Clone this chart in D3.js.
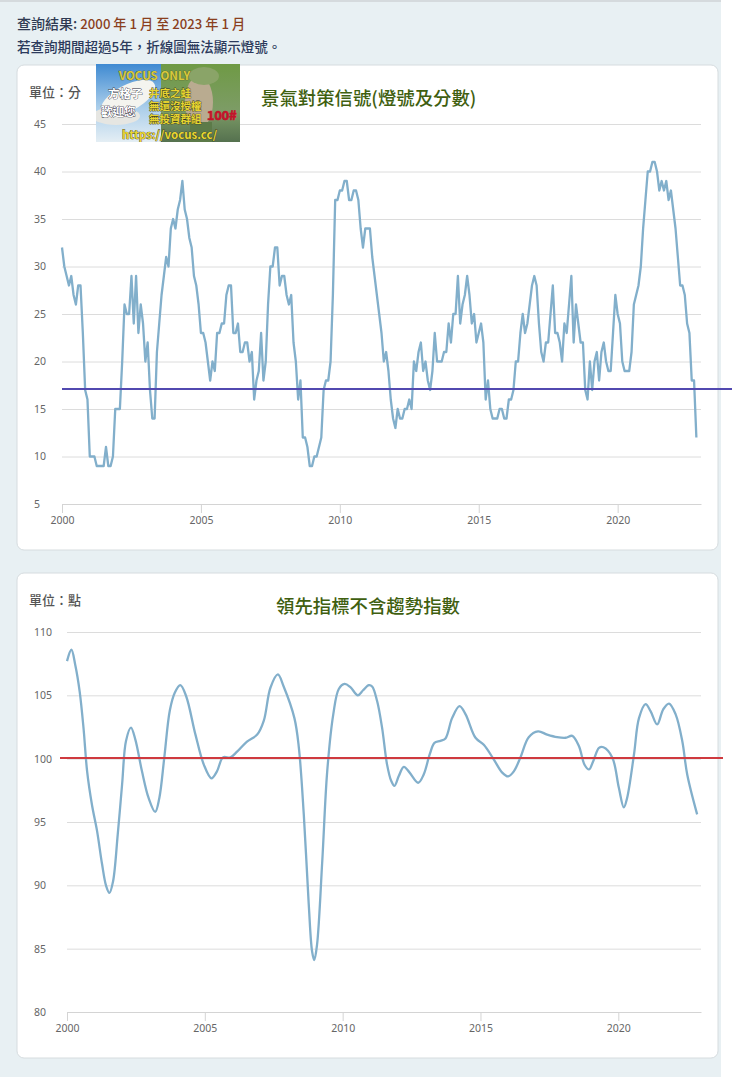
<!DOCTYPE html>
<html>
<head>
<meta charset="utf-8">
<script src="https://cdn.jsdelivr.net/npm/d3@7"></script>
<style>
  html, body { margin: 0; padding: 0; background: #fff; }
  text { font-family: "Noto Sans CJK TC", "Noto Sans", sans-serif; }
</style>
</head>
<body>
<svg id="page" width="740" height="1077"></svg>
<script>
// monthly score, 2000-01 to 2022-11
var scoreValues = [
  32,30,29,28,29,27,26,28,28,23,17,16,
  10,10,10,9,9,9,9,11,9,9,10,15,
  15,15,20,26,25,25,29,24,29,23,26,24,
  20,22,17,14,14,21,24,27,29,31,30,34,
  35,34,36,37,39,36,35,33,32,29,28,26,
  23,23,22,20,18,20,19,23,23,24,24,27,
  28,28,23,23,24,21,21,22,22,20,21,16,
  18,19,23,18,20,26,30,30,32,32,28,29,
  29,27,26,27,22,20,16,18,12,12,11,9,
  9,10,10,11,12,17,18,18,20,27,37,37,
  38,38,39,39,37,37,38,38,37,34,32,34,
  34,34,31,29,27,25,23,20,21,19,16,14,
  13,15,14,14,15,15,16,15,20,19,21,22,
  19,20,18,17,19,23,20,20,20,21,21,24,
  22,25,25,29,24,26,27,29,27,24,25,22,
  23,24,22,16,18,15,14,14,14,15,15,14,
  14,16,16,17,20,20,23,25,23,24,26,28,
  29,28,24,21,20,22,22,25,28,23,23,22,
  20,24,23,26,29,22,26,24,22,22,17,16,
  20,17,20,21,18,21,22,20,19,19,23,27,
  25,24,20,19,19,19,21,26,27,28,30,34,
  37,40,40,41,41,40,38,39,38,39,37,38,
  36,34,31,28,28,27,24,23,18,18,12
];
var scoreLimit = 17.1;
var scoreTicks = [5,10,15,20,25,30,35,40,45];

// leading index, read at the turning points of the curve
var leadYears = [
  2000,2000.16,2000.3,2000.46,2000.6,2000.73,2000.91,2001.09,2001.27,2001.42,2001.54,2001.67,2001.84,
  2002,2002.14,2002.32,2002.48,2002.72,2002.96,2003.2,2003.35,2003.53,2003.73,2003.91,
  2004.11,2004.32,2004.66,2004.96,2005.24,2005.44,2005.66,2005.93,2006.17,2006.53,2006.9,
  2007.14,2007.38,2007.65,2007.86,2008.25,2008.41,2008.59,2008.77,2008.89,2008.97,
  2009.07,2009.26,2009.44,2009.66,2009.86,2010.07,2010.28,2010.55,2010.74,2010.95,
  2011.07,2011.25,2011.43,2011.61,2011.76,2011.88,2012.04,2012.22,2012.43,2012.74,2012.94,
  2013.16,2013.33,2013.55,2013.73,2013.97,2014.24,2014.46,2014.82,2015.12,2015.48,2015.79,
  2016,2016.21,2016.45,2016.75,2017.09,2017.42,2017.78,2018.09,2018.33,2018.57,2018.78,2018.94,
  2019.09,2019.3,2019.46,2019.78,2020.02,2020.2,2020.32,2020.57,2020.75,2020.99,
  2021.17,2021.41,2021.63,2021.84,2022.08,2022.32,2022.5,2022.86
];
var leadValues = [
  107.7,108.6,107.4,105.3,102.4,99,96.3,94.3,91.7,89.95,89.4,90.3,94,
  98,101.4,102.45,101.5,99,96.9,95.8,96.9,100.1,103.8,105.2,
  105.8,104.95,101.9,99.55,98.45,99,100.1,100.1,100.55,101.35,101.9,
  103,105.6,106.65,105.7,103.2,100.9,95.6,88.5,84.8,84.1,
  85.3,91.9,99,103.5,105.5,105.9,105.65,105,105.4,105.8,
  105.7,104.55,102.45,99.55,98.25,97.85,98.65,99.35,98.9,98.1,98.75,
  100.35,101.25,101.4,101.6,103.2,104.15,103.5,101.65,101.1,99.95,98.9,
  98.6,99,100.1,101.7,102.15,101.9,101.7,101.65,101.8,101,99.5,99.15,
  99.8,100.85,100.9,100.1,97.7,96.15,96.9,100.35,103.2,104.3,
  103.75,102.7,103.9,104.35,103.5,101.4,98.75,95.6
];
var leadLimit = 100.05;
var leadTicks = [80,85,90,95,100,105,110];

var yearTicks = [2000,2005,2010,2015,2020];

var svg = d3.select("#page");

// page background, it stops short of the right edge
svg.append("rect").attr("x", 0).attr("y", 0).attr("width", 721).attr("height", 1077).attr("fill", "#e8f0f3");
svg.append("rect").attr("x", 0).attr("y", 0).attr("width", 721).attr("height", 2).attr("fill", "#d5dadd");

var head1 = svg.append("text").attr("x", 17).attr("y", 29).attr("font-size", 14).attr("font-weight", 500);
head1.append("tspan").attr("fill", "#2f3a52").text("查詢結果: ");
head1.append("tspan").attr("fill", "#8a3f1e").attr("font-size", 13.2).text("2000 年 1 月 至 2023 年 1 月");
svg.append("text").attr("x", 17).attr("y", 52).attr("font-size", 13.5).attr("font-weight", 500)
  .attr("fill", "#2c3a5c").text("若查詢期間超過5年，折線圖無法顯示燈號。");

function drawCard(top) {
  svg.append("rect")
    .attr("x", 17).attr("y", top).attr("width", 701).attr("height", 485).attr("rx", 7)
    .attr("fill", "#fff").attr("stroke", "#d6dcdf").attr("stroke-width", 1);
}

function drawChart(opt) {
  var x = d3.scaleLinear().domain([2000, 2023]).range(opt.xRange);
  var y = d3.scaleLinear().domain(opt.yDomain).range(opt.yRange);

  var grid = svg.append("g").attr("transform", "translate(" + opt.xRange[0] + ",0)")
    .call(d3.axisLeft(y).tickValues(opt.yTicks).tickSize(-(opt.xRange[1] - opt.xRange[0])).tickPadding(0));
  grid.select(".domain").remove();
  grid.selectAll(".tick line").attr("stroke", "#dcdcdc").attr("stroke-width", 1);
  grid.selectAll(".tick text")
    .attr("x", opt.labelX - opt.xRange[0]).attr("text-anchor", "start")
    .attr("font-size", 10.5).attr("fill", "#666")
    .style("font-family", '"Noto Sans", sans-serif');

  var axis = svg.append("g").attr("transform", "translate(0," + opt.yRange[0] + ")")
    .call(d3.axisBottom(x).tickValues(yearTicks).tickFormat(d3.format("d")).tickSize(9).tickSizeOuter(0).tickPadding(4));
  axis.select(".domain").attr("stroke", "#d4d4d4").attr("stroke-width", 1);
  axis.selectAll(".tick line").attr("stroke", "#d4d4d4");
  axis.selectAll(".tick text").attr("font-size", 10.5).attr("fill", "#666")
    .style("font-family", '"Noto Sans", sans-serif');

  var line = d3.line().x(function (d) { return x(d[0]); }).y(function (d) { return y(d[1]); }).curve(opt.curve);
  svg.append("path").datum(opt.points)
    .attr("d", line).attr("fill", "none")
    .attr("stroke", "#82afcb").attr("stroke-width", 2.3).attr("stroke-linejoin", "round");

  svg.append("line")
    .attr("x1", opt.limitRange[0]).attr("x2", opt.limitRange[1])
    .attr("y1", y(opt.limit)).attr("y2", y(opt.limit))
    .attr("stroke", opt.limitColor).attr("stroke-width", 2);

  svg.append("text").attr("x", 29).attr("y", opt.unitY).attr("font-size", 13).attr("font-weight", 500)
    .attr("fill", "#555").text(opt.unit);
  svg.append("text").attr("x", opt.titleX).attr("y", opt.titleY).attr("font-size", 18.4).attr("font-weight", 500)
    .attr("fill", "#3f5f10").text(opt.title);
}

// the pasted banner over the first chart
function drawBanner() {
  var defs = svg.append("defs");
  var sky = defs.append("linearGradient").attr("id", "sky").attr("x1", 0).attr("y1", 0).attr("x2", 0).attr("y2", 1);
  sky.append("stop").attr("offset", 0).attr("stop-color", "#3f8ad2");
  sky.append("stop").attr("offset", 0.55).attr("stop-color", "#a9cdea");
  sky.append("stop").attr("offset", 1).attr("stop-color", "#e4eef4");
  var leaf = defs.append("linearGradient").attr("id", "leaf").attr("x1", 0).attr("y1", 0).attr("x2", 0).attr("y2", 1);
  leaf.append("stop").attr("offset", 0).attr("stop-color", "#6f9a45");
  leaf.append("stop").attr("offset", 0.6).attr("stop-color", "#7d9c66");
  leaf.append("stop").attr("offset", 1).attr("stop-color", "#55714f");
  defs.append("clipPath").attr("id", "bannerClip").append("rect")
    .attr("x", 96).attr("y", 64).attr("width", 144).attr("height", 78);

  var b = svg.append("g").attr("clip-path", "url(#bannerClip)");
  b.append("rect").attr("x", 96).attr("y", 64).attr("width", 66).attr("height", 78).attr("fill", "url(#sky)");
  b.append("rect").attr("x", 161).attr("y", 64).attr("width", 79).attr("height", 78).attr("fill", "url(#leaf)");
  b.append("ellipse").attr("cx", 128).attr("cy", 98).attr("rx", 30).attr("ry", 13).attr("fill", "#f4f4ef").attr("transform", "rotate(-28 128 98)");
  b.append("ellipse").attr("cx", 116).attr("cy", 116).attr("rx", 24).attr("ry", 9).attr("fill", "#e6e6e2");
  b.append("ellipse").attr("cx", 199).attr("cy", 102).attr("rx", 14).attr("ry", 26).attr("fill", "#b9ab90");
  b.append("ellipse").attr("cx", 204).attr("cy", 76).attr("rx", 15).attr("ry", 9).attr("fill", "#8aa468");
  b.append("rect").attr("x", 190).attr("y", 122).attr("width", 22).attr("height", 20).attr("fill", "#5c7a48");

  function bannerText(label, px, py, size, fill, outline) {
    b.append("text").attr("x", px).attr("y", py).attr("font-size", size).attr("font-weight", 700)
      .attr("fill", fill).attr("stroke", outline).attr("stroke-width", 0.7).attr("paint-order", "stroke").text(label);
  }
  bannerText("VOCUS ONLY", 119, 80, 11.5, "#d8c93c", "#5a5a20");
  bannerText("方格子", 108, 98, 11.5, "#fff", "#223");
  bannerText("歡迎您", 101, 116, 11.5, "#fff", "#223");
  bannerText("井底之蛙", 149, 97, 10.5, "#e8d530", "#33361a");
  bannerText("無還沒授權", 149, 110, 10.5, "#e8d530", "#33361a");
  bannerText("無投資群組", 149, 123, 10.5, "#e8d530", "#33361a");
  bannerText("100#", 207, 120, 12.5, "#c4122a", "#c4122a");
  bannerText("https://vocus.cc/", 122, 139, 11.5, "#e8d530", "#33361a");
}

drawCard(65);
drawCard(573);

drawChart({
  points: scoreValues.map(function (v, i) { return [2000 + i / 12, v]; }),
  curve: d3.curveLinear,
  xRange: [62, 701], yDomain: [5, 45], yRange: [504, 124], yTicks: scoreTicks,
  labelX: 34, limit: scoreLimit, limitColor: "#5249b0", limitRange: [62, 732],
  unit: "單位：分", unitY: 97,
  title: "景氣對策信號(燈號及分數)", titleX: 261, titleY: 105
});
drawChart({
  points: leadYears.map(function (t, i) { return [t, leadValues[i]]; }),
  curve: d3.curveCatmullRom,
  xRange: [67, 701], yDomain: [80, 110], yRange: [1012, 632], yTicks: leadTicks,
  labelX: 34, limit: leadLimit, limitColor: "#cf3a3f", limitRange: [60, 723],
  unit: "單位：點", unitY: 605,
  title: "領先指標不含趨勢指數", titleX: 276, titleY: 613
});

drawBanner();
</script>
</body>
</html>
